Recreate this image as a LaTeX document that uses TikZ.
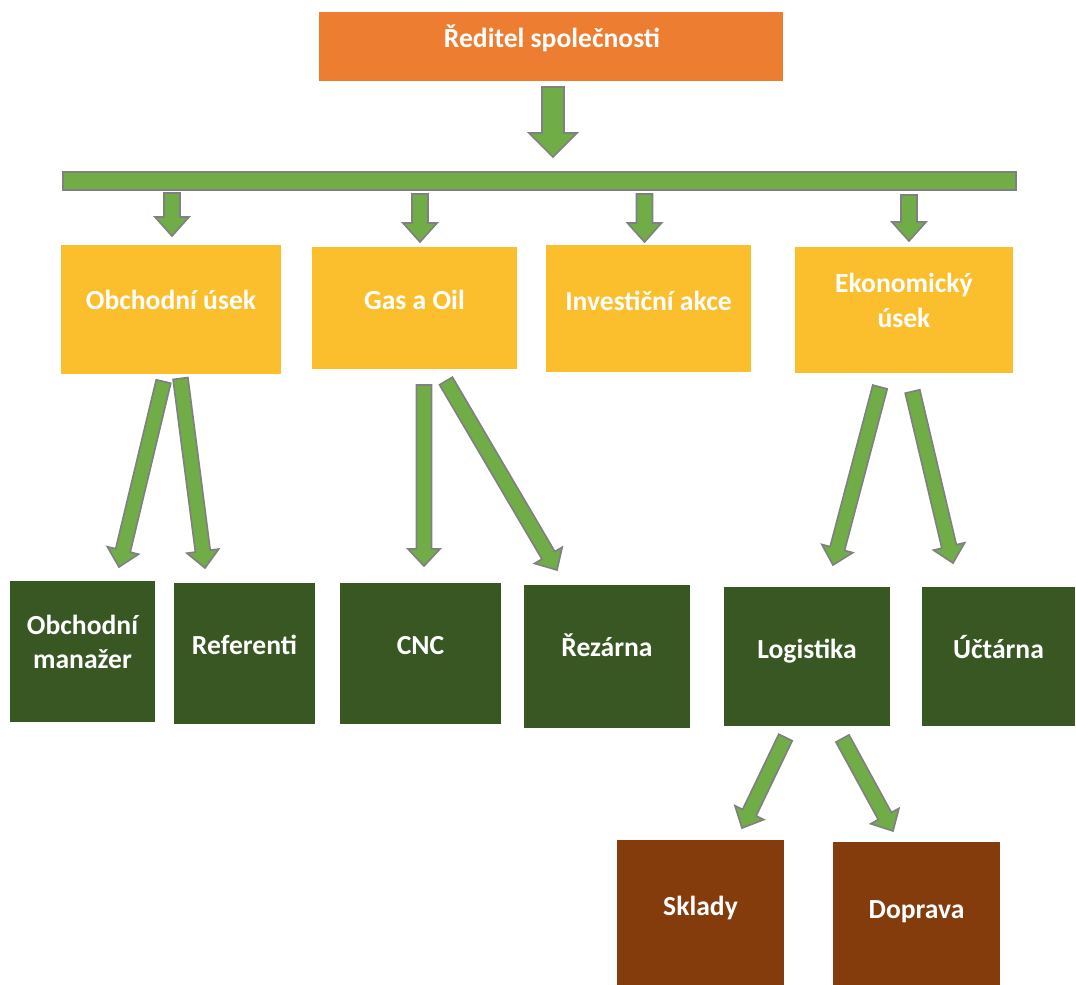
\documentclass[tikz,border=0pt]{standalone}
\usepackage{fontspec}
\setmainfont{Carlito}
\usetikzlibrary{calc}

\definecolor{ceo}{HTML}{ED7D31}
\definecolor{dept}{HTML}{FBBF2D}
\definecolor{unit}{HTML}{385723}
\definecolor{subunit}{HTML}{843C0C}
\definecolor{arrowfill}{HTML}{70AD47}
\definecolor{arrowline}{HTML}{808080}

% block arrow: #1 shaft half-width, #2 head half-width, #3 head length,
% #4 tail coordinate, #5 tip coordinate
\newcommand\blockarrow[5]{%
  \coordinate (ba-neck) at ($(#5)!#3!(#4)$);
  \draw[blockarrow]
    ($(#4)!#1!90:(#5)$) -- ($(ba-neck)!#1!90:(#5)$) -- ($(ba-neck)!#2!90:(#5)$)
    -- (#5)
    -- ($(ba-neck)!#2!-90:(#5)$) -- ($(ba-neck)!#1!-90:(#5)$) -- ($(#4)!#1!-90:(#5)$)
    -- cycle;}

\tikzset{
  box/.style={draw=none, inner sep=0pt, outer sep=0pt},
  size/.style 2 args={minimum width=#1*0.75pt, minimum height=#2*0.75pt},
  caption/.style={text=white, font=\fontsize{20.7}{25.8}\selectfont\bfseries,
    align=center, inner sep=0pt},
  blockarrow/.style={fill=arrowfill, draw=arrowline, line width=1.25pt, line join=miter},
}

\begin{document}
\begin{tikzpicture}[x=0.75pt,y=-0.75pt]
\useasboundingbox (0,0) rectangle (1076,985);

% top level
\node[box, fill=ceo, size={464}{69}] (ceo) at (551,46.5) {};
\node[caption, anchor=base] (ceo-t) at (552,47.3) {Ředitel společnosti};

% distribution bar
\node[box, fill=arrowfill, draw=arrowline, line width=1.25pt, size={953}{18}] (bar) at (539.5,181) {};

% departments
\node[box, fill=dept, size={220}{129}] (obch) at (171,309.5) {};
\node[box, fill=dept, size={205}{122}] (gas)  at (414.5,308) {};
\node[box, fill=dept, size={205}{127}] (inv)  at (648.5,308.5) {};
\node[box, fill=dept, size={218}{126}] (eko)  at (904,310) {};
\node[caption, anchor=base] (obch-t) at (171,309.3) {Obchodní úsek};
\node[caption, anchor=base] (gas-t)  at (414.5,309.3) {Gas a Oil};
\node[caption, anchor=base] (inv-t)  at (648.5,310) {Investiční akce};
\node[caption] (eko-t) at (904,300.5) {Ekonomický\\úsek};

% units
\node[box, fill=unit, size={145}{141}] (man) at (82.5,651.5) {};
\node[box, fill=unit, size={141}{141}] (ref) at (244.5,653.5) {};
\node[box, fill=unit, size={161}{141}] (cnc) at (420.5,653.5) {};
\node[box, fill=unit, size={166}{143}] (rez) at (607,656.5) {};
\node[box, fill=unit, size={166}{139}] (log) at (807,656.5) {};
\node[box, fill=unit, size={153}{139}] (uct) at (998.5,656.5) {};
\node[caption] (man-t) at (82.5,642) {Obchodní\\manažer};
\node[caption, anchor=base] (ref-t) at (244.5,654) {Referenti};
\node[caption, anchor=base] (cnc-t) at (420.5,654) {CNC};
\node[caption, anchor=base] (rez-t) at (607,656) {Řezárna};
\node[caption, anchor=base] (log-t) at (807,658) {Logistika};
\node[caption, anchor=base] (uct-t) at (998.5,658) {Účtárna};

% logistics sub-units
\node[box, fill=subunit, size={167}{146}] (skl) at (700.5,913) {};
\node[box, fill=subunit, size={167}{144}] (dop) at (916.5,914) {};
\node[caption, anchor=base] (skl-t) at (700.5,915) {Sklady};
\node[caption, anchor=base] (dop-t) at (916.5,918) {Doprava};

% arrow end points
\coordinate (ceo-s) at (553,87);     \coordinate (ceo-e) at (553,157);
\coordinate (b1-s) at (172,193);     \coordinate (b1-e) at (172,236);
\coordinate (b2-s) at (420,194);     \coordinate (b2-e) at (420,242);
\coordinate (b3-s) at (644.5,194);   \coordinate (b3-e) at (644.5,242);
\coordinate (b4-s) at (909,195);     \coordinate (b4-e) at (909,241);
\coordinate (man-s) at (163.5,381.5); \coordinate (man-e) at (119,567);
\coordinate (ref-s) at (180.5,378.5); \coordinate (ref-e) at (205,568);
\coordinate (cnc-s) at (424,385);     \coordinate (cnc-e) at (424,566);
\coordinate (rez-s) at (446,381);     \coordinate (rez-e) at (557,570);
\coordinate (log-s) at (880,387);     \coordinate (log-e) at (833,565);
\coordinate (uct-s) at (912.5,391.5); \coordinate (uct-e) at (953,563);
\coordinate (skl-s) at (785.5,737.5); \coordinate (skl-e) at (742,828);
\coordinate (dop-s) at (842.5,738.5); \coordinate (dop-e) at (893,831);

% arrows
\blockarrow{8.25pt}{18pt}{18pt}{ceo-s}{ceo-e}
\blockarrow{6pt}{12.75pt}{14.25pt}{b1-s}{b1-e}
\blockarrow{6pt}{12.75pt}{14.25pt}{b2-s}{b2-e}
\blockarrow{6pt}{12.75pt}{14.25pt}{b3-s}{b3-e}
\blockarrow{6pt}{12.75pt}{14.25pt}{b4-s}{b4-e}
\blockarrow{5.6pt}{12pt}{12.75pt}{man-s}{man-e}
\blockarrow{5.6pt}{12pt}{12.75pt}{ref-s}{ref-e}
\blockarrow{5.6pt}{12pt}{12.75pt}{cnc-s}{cnc-e}
\blockarrow{5.6pt}{12pt}{12.75pt}{rez-s}{rez-e}
\blockarrow{5.6pt}{12pt}{12.75pt}{log-s}{log-e}
\blockarrow{5.6pt}{12pt}{12.75pt}{uct-s}{uct-e}
\blockarrow{5.6pt}{12pt}{12.75pt}{skl-s}{skl-e}
\blockarrow{5.6pt}{12pt}{12.75pt}{dop-s}{dop-e}
\end{tikzpicture}
\end{document}
